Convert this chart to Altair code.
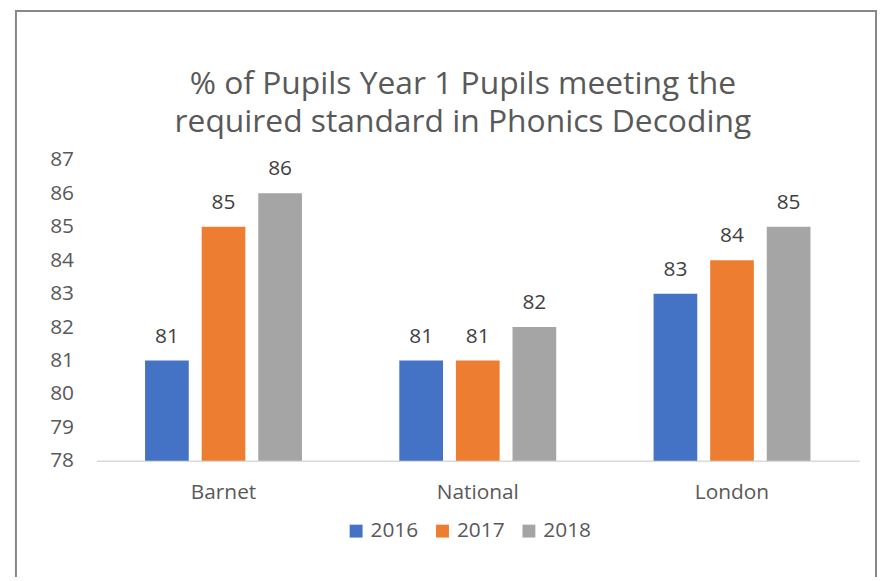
import altair as alt
import pandas as pd

categories = ["Barnet", "National", "London"]
years = ["2016", "2017", "2018"]
values_2016 = [81, 81, 83]
values_2017 = [85, 81, 84]
values_2018 = [86, 82, 85]
colors = ["#4472C4", "#ED7D31", "#A5A5A5"]
y_ticks = [78, 79, 80, 81, 82, 83, 84, 85, 86, 87]
title_lines = ["% of Pupils Year 1 Pupils meeting the", "required standard in Phonics Decoding"]

rows = []
for yr, vals in zip(years, [values_2016, values_2017, values_2018]):
    for c, v in zip(categories, vals):
        rows.append({"category": c, "year": yr, "value": v, "base": y_ticks[0]})
df = pd.DataFrame(rows)
title_df = pd.DataFrame({"t": [0]})

FONT = "Open Sans"
W, H = 768, 303

x_enc = alt.X("category:N", sort=categories, title=None,
              scale=alt.Scale(paddingInner=0, paddingOuter=0),
              axis=alt.Axis(labelAngle=0, ticks=False, domainColor="#D9D9D9", domainWidth=1.5,
                            labelFont=FONT, labelFontSize=21, labelColor="#595959",
                            labelBaseline="alphabetic", labelPadding=38, grid=False))
xo_enc = alt.XOffset("year:N", sort=years,
                     scale=alt.Scale(paddingInner=0.228, paddingOuter=0.86))
y_enc = alt.Y("value:Q", title=None,
              scale=alt.Scale(domain=[y_ticks[0], y_ticks[-1]], zero=False, nice=False),
              axis=alt.Axis(values=y_ticks, domain=False, ticks=False, grid=False,
                            labelOverlap=False, labelBound=False,
                            labelFont=FONT, labelFontSize=21, labelColor="#595959",
                            labelPadding=23))

base = alt.Chart(df)

bars = base.mark_bar().encode(
    x=x_enc,
    xOffset=xo_enc,
    y=y_enc,
    y2="base:Q",
    color=alt.Color("year:N", sort=years,
                    scale=alt.Scale(domain=years, range=colors),
                    legend=alt.Legend(title=None, orient="none", direction="horizontal",
                                      legendX=251, legendY=363, symbolType="square",
                                      symbolSize=169, symbolStrokeWidth=0,
                                      labelFont=FONT, labelFontSize=21, labelColor="#595959",
                                      labelOffset=4, columnPadding=13, padding=0)),
)

labels = base.mark_text(baseline="alphabetic", dy=-18, font=FONT, fontSize=21,
                        color="#404040").encode(
    x=x_enc,
    xOffset=xo_enc,
    y=y_enc,
    text=alt.Text("value:Q"),
)

border = alt.Chart(title_df).mark_rect(fill=None, stroke="#878787", strokeWidth=2).encode(
    x=alt.value(-81), x2=alt.value(785), y=alt.value(-150), y2=alt.value(460)
)

title = alt.Chart(title_df).mark_text(font=FONT, fontSize=32, fontWeight="normal",
                                      color="#595959", align="center",
                                      baseline="alphabetic", lineHeight=38).encode(
    x=alt.value(W / 2 - 15), y=alt.value(-66), text=alt.value(title_lines)
)

chart = alt.layer(border, bars, labels, title).properties(
    width=W, height=H,
    autosize=alt.AutoSizeParams(type="none"),
    padding={"left": 89, "top": 151, "right": 20, "bottom": 115},
).configure_view(stroke=None)

chart.save("out.html", embed_options={"renderer": "svg", "actions": False})
